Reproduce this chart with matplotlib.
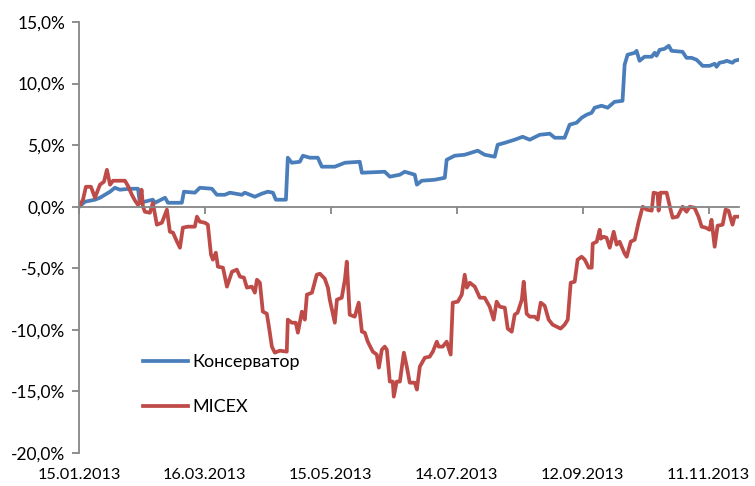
import pandas as pd
import matplotlib
matplotlib.use("Agg")
import matplotlib.pyplot as plt
import matplotlib.transforms as mtransforms
from matplotlib.ticker import FuncFormatter

# ----------------------------------------------------
# data
# days since 15.01.2013, value in %
# ----------------------------------------------------
start_date = "2013-01-15"

cons_days = [0, 2.9, 7.6, 10.0, 14.8, 17.1, 19.5, 24.3, 28.1, 29.0, 35.2, 36.2, 41.0, 42.4,
             49.0, 50.0, 55.2, 57.6, 63.3, 65.7, 69.5, 71.9, 77.6, 79.0, 83.8, 87.1, 90.0,
             92.4, 93.8, 98.6, 99.5, 101.4, 105.2, 106.7, 110.0, 113.8, 115.7, 121.9, 126.7,
             133.8, 134.8, 145.7, 148.1, 152.9, 155.2, 160.0, 161.0, 163.3, 169.5, 174.3,
             175.2, 179.0, 183.8, 190.0, 193.3, 198.1, 199.5, 202.9, 207.6, 211.4, 214.8,
             219.5, 224.3, 226.7, 231.4, 233.8, 237.1, 239.5, 241.9, 244.3, 245.7, 249.0,
             251.9, 255.2, 259.0, 260.0, 261.4, 264.8, 265.7, 267.1, 269.5, 272.9, 274.3,
             275.2, 276.7, 279.0, 281.0, 282.4, 287.6, 289.5, 291.9, 294.3, 296.2, 297.1,
             300.5, 302.9, 303.8, 305.2, 307.6, 308.6, 311.4, 312.4, 314.3]
cons_vals = [0.00, 0.41, 0.57, 0.73, 1.22, 1.54, 1.38, 1.46, 1.46, 0.32, 0.57, 0.32, 0.73, 0.32,
             0.32, 1.22, 1.14, 1.54, 1.46, 0.97, 0.97, 1.14, 0.97, 1.14, 0.81, 1.06, 1.22,
             1.14, 0.57, 0.57, 3.98, 3.57, 3.65, 4.14, 3.98, 3.98, 3.25, 3.25, 3.57,
             3.65, 2.76, 2.84, 2.44, 2.60, 2.84, 2.60, 1.79, 2.11, 2.19, 2.35,
             3.81, 4.14, 4.22, 4.55, 4.22, 4.06, 5.03, 5.19, 5.44, 5.68, 5.44,
             5.84, 5.93, 5.60, 5.60, 6.66, 6.82, 7.22, 7.47, 7.63, 8.04, 8.20,
             8.04, 8.52, 8.60, 11.53, 12.34, 12.50, 12.66, 11.85, 12.18, 12.18, 12.50,
             12.26, 12.74, 12.82, 13.07, 12.66, 12.58, 12.09, 12.09, 11.93, 11.61, 11.44,
             11.44, 11.61, 11.36, 11.69, 11.77, 11.85, 11.69, 11.85, 11.93]

micex_days = [0, 1.9, 3.3, 5.7, 7.6, 10.0, 11.9, 13.3, 14.8, 16.2, 21.9, 23.3, 25.2, 26.7, 28.1,
              29.0, 29.8, 30.5, 31.4, 33.8, 35.2, 37.1, 39.5, 41.9, 43.3, 44.8, 46.7, 48.1,
              49.5, 51.9, 55.2, 56.2, 57.6, 60.0, 61.4, 62.9, 63.8, 65.2, 66.2, 68.6, 70.5,
              72.9, 75.2, 76.7, 78.6, 80.0, 82.4, 83.8, 84.8, 86.2, 87.6, 89.5, 90.5, 91.9,
              93.3, 95.7, 99.0, 99.5, 101.4, 103.3, 104.3, 106.2, 107.6, 108.6, 111.0, 113.3,
              114.8, 117.1, 118.6, 119.5, 121.9, 122.9, 125.2, 126.7, 127.6, 129.0, 131.4,
              133.3, 134.8, 136.2, 137.6, 140.0, 141.9, 142.9, 144.3, 145.7, 146.7, 148.1,
              149.5, 150.0, 151.4, 152.9, 154.8, 156.2, 157.6, 160.0, 161.0, 162.4, 164.8,
              167.1, 168.6, 170.5, 171.4, 173.3, 175.2, 177.1, 178.1, 180.5, 182.4, 183.8,
              184.8, 186.2, 188.6, 191.0, 193.3, 195.7, 197.6, 199.0, 200.5, 202.9, 204.3,
              206.2, 207.6, 209.0, 211.0, 211.9, 213.3, 214.8, 217.1, 218.6, 220.0, 221.9,
              223.8, 225.7, 227.6, 229.5, 231.4, 232.9, 234.3, 236.2, 237.6, 239.5, 241.0,
              242.9, 244.3, 244.8, 246.7, 248.1, 248.6, 250.0, 251.4, 252.9, 254.8, 256.2,
              257.6, 260.0, 261.0, 262.9, 264.8, 266.7, 268.6, 270.5, 272.9, 273.8, 275.7,
              276.2, 277.1, 280.0, 281.9, 282.9, 285.2, 287.6, 289.5, 291.0, 293.3, 295.2,
              296.7, 298.6, 300.5, 301.4, 302.9, 304.3, 306.7, 308.1, 309.5, 311.4, 312.4,
              314.3]
micex_vals = [0.00, 0.57, 1.62, 1.62, 0.73, 1.79, 2.03, 3.00, 1.79, 2.11, 2.11, 1.70, 0.97, 0.49,
              0.16, 0.32, 1.38, 0.00, -0.41, -0.49, 0.32, -1.46, -1.30, -0.24, -2.03, -2.11,
              -2.84, -3.33, -1.70, -1.62, -1.62, -0.81, -1.22, -1.30, -1.46, -3.90, -4.30,
              -3.73, -4.87, -4.95, -6.49, -5.28, -5.11, -5.68, -5.76, -6.57, -6.49, -6.98,
              -5.93, -6.17, -8.52, -8.69, -9.74, -11.36, -11.85, -11.69, -11.77, -9.17, -9.42,
              -9.42, -10.23, -8.52, -9.17, -7.14, -6.98, -5.52, -5.44, -5.84, -6.57, -7.55,
              -9.42, -7.55, -7.39, -5.93, -4.46, -8.77, -8.93, -7.79, -10.15, -10.23, -10.96,
              -11.77, -12.01, -13.07, -11.61, -11.36, -11.61, -14.20, -14.20, -15.42, -14.20,
              -14.20, -11.85, -12.99, -14.29, -14.29, -14.85, -12.99, -12.26, -12.18, -11.77,
              -10.96, -11.36, -11.36, -10.96, -12.01, -7.79, -7.71, -7.14, -5.52, -6.57, -6.17,
              -6.49, -7.39, -7.39, -8.12, -9.17, -7.71, -8.12, -8.20, -9.90, -10.15, -8.77,
              -8.60, -7.55, -6.09, -8.69, -8.93, -8.93, -9.17, -7.79, -8.04, -9.17, -9.58,
              -9.74, -9.90, -9.58, -9.17, -6.17, -6.09, -4.30, -4.06, -4.30, -4.95, -4.95,
              -3.00, -2.84, -1.87, -2.60, -2.44, -2.52, -3.33, -2.03, -3.08, -2.84, -3.81,
              -4.06, -2.84, -2.68, -1.22, 0.00, -0.24, -0.32, 1.14, 1.06, -0.32, 1.14, 1.14,
              -0.24, -0.89, -0.81, 0.00, -0.41, 0.00, -0.08, -0.81, -1.62, -1.70, -1.87,
              -1.06, -3.25, -1.54, -1.46, -0.24, -0.32, -1.46, -0.81, -0.81]

series_labels = ["Консерватор", "MICEX"]
tick_days = [0, 60, 120, 180, 240, 300]
y_ticks = [-20, -15, -10, -5, 0, 5, 10, 15]


def to_dates(days):
    return pd.Timestamp(start_date) + pd.to_timedelta(days, unit="D")


def generate_chart():
    plt.rcParams["font.family"] = ["Lato", "DejaVu Sans"]

    fig = plt.figure(figsize=(7.55, 4.86), dpi=100)
    ax = fig.add_axes([79 / 755, 1 - 453 / 486, 660 / 755, 431 / 486])

    ax.plot(to_dates(cons_days), cons_vals, color="#4A7EBB", lw=2.7,
            solid_joinstyle="round", label=series_labels[0])
    ax.plot(to_dates(micex_days), micex_vals, color="#BE4B48", lw=2.7,
            solid_joinstyle="round", label=series_labels[1])

    axis_color = "#868686"
    ax.set_xlim(pd.Timestamp(start_date), to_dates(314.5))
    ax.set_ylim(-20, 15)

    for s in ["top", "right"]:
        ax.spines[s].set_visible(False)
    ax.spines["bottom"].set_position(("data", 0))
    ax.spines["left"].set_color(axis_color)
    ax.spines["bottom"].set_color(axis_color)
    ax.spines["left"].set_linewidth(1.3)
    ax.spines["bottom"].set_linewidth(1.3)

    ax.set_yticks(y_ticks)
    ax.yaxis.set_major_formatter(FuncFormatter(lambda v, p: f"{v:.1f}%".replace(".", ",")))
    ax.tick_params(axis="y", direction="out", length=5, width=1.3, color=axis_color,
                   labelsize=12.5, pad=5)

    tick_dates = to_dates(tick_days)
    ax.set_xticks(tick_dates)
    ax.tick_params(axis="x", direction="out", length=5, width=1.3, color=axis_color,
                   labelbottom=False)

    # date labels sit under the plot area, not on the zero line
    trans = mtransforms.blended_transform_factory(ax.transData, ax.transAxes)
    for d in tick_dates:
        ax.text(d, -0.051, d.strftime("%d.%m.%Y"), transform=trans,
                ha="center", va="center", fontsize=11.7)

    ax.legend(loc="upper left", bbox_to_anchor=(0.097, 0.229), frameon=False,
              fontsize=13, handlelength=2.5, handletextpad=0.22, labelspacing=1.6,
              borderpad=0, borderaxespad=0)

    plt.savefig("out.png", dpi=100)


if __name__ == "__main__":
    generate_chart()
